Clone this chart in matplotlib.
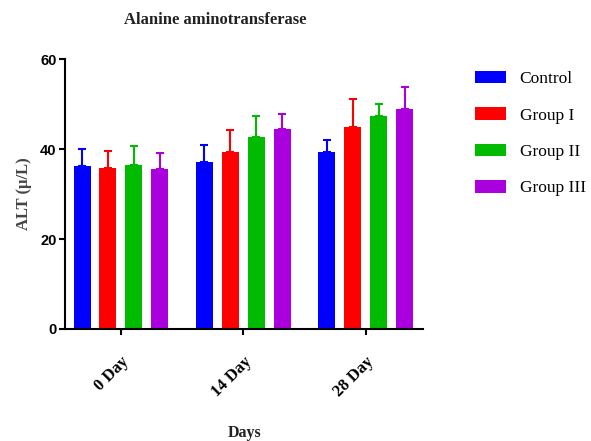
import matplotlib
matplotlib.use("Agg")
import matplotlib.pyplot as plt
import numpy as np

days = ["0 Day", "14 Day", "28 Day"]
groups = ["Control", "Group I", "Group II", "Group III"]
colors = ["#0000ff", "#ff0000", "#00bb00", "#aa00dd"]

# mean ALT per group (rows) for each day (columns)
means = [
    [36.2, 37.2, 39.3],
    [35.9, 39.3, 45.0],
    [36.5, 42.6, 47.3],
    [35.5, 44.4, 48.8],
]
# upper error bar ends
err_tops = [
    [40.0, 40.8, 42.1],
    [39.6, 44.2, 51.2],
    [40.7, 47.4, 50.1],
    [39.2, 47.8, 53.8],
]

fig = plt.figure(figsize=(5.91, 4.41), dpi=100)
ax = fig.add_axes([0.110, 0.254, 0.606, 0.612])

x = np.arange(len(days))
step = 0.212
width = 0.139
for i, g in enumerate(groups):
    m = np.array(means[i])
    e = np.array(err_tops[i]) - m
    pos = x + (i - 1.5) * step
    ax.bar(pos, m, width, color=colors[i], label=g, zorder=2)
    ax.errorbar(pos, m, yerr=[np.zeros_like(e), e], fmt="none",
                ecolor=colors[i], elinewidth=1.5, capsize=3, capthick=1.5, zorder=3)

ax.set_xlim(-0.457, 2.468)
ax.set_ylim(0, 60)
ax.set_yticks([0, 20, 40, 60])
ax.set_yticklabels(["0", "20", "40", "60"], fontfamily="Liberation Sans",
                   fontweight="bold", fontsize=10.5)
ax.set_xticks(x)
ax.set_xticklabels(days, rotation=45, ha="right", rotation_mode="anchor",
                   fontfamily="Liberation Serif", fontweight="bold", fontsize=12)
ax.tick_params(axis="x", length=4, width=1.5, pad=14)
ax.tick_params(axis="y", length=4, width=1.5, pad=2)

for s in ["top", "right"]:
    ax.spines[s].set_visible(False)
for s in ["left", "bottom"]:
    ax.spines[s].set_linewidth(1.5)

ax.set_ylabel("ALT (\u00b5/L)", fontfamily="Liberation Serif", fontweight="bold",
              fontsize=12, color="#444444", labelpad=6)
ax.set_xlabel("Days", fontfamily="Liberation Serif", fontweight="bold",
              fontsize=11.5, color="#222222", labelpad=18)
fig.text(0.365, 0.955, "Alanine aminotransferase", fontfamily="Liberation Serif",
         fontweight="bold", fontsize=12, color="#222222", ha="center", va="center")

fig.legend(loc="upper left", bbox_to_anchor=(0.778, 0.875), frameon=False,
           prop={"family": "Liberation Serif", "size": 12.5},
           handlelength=1.75, handleheight=0.75, labelspacing=1.15, handletextpad=0.8)

fig.savefig("out.png", dpi=100)
